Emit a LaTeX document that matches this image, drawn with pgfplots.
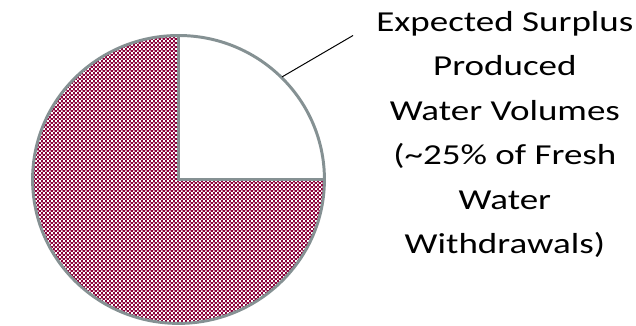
\documentclass[border=0pt]{standalone}
\usepackage{pgfplots}
\pgfplotsset{compat=1.18}
\usepackage{pgfplotstable}
\usetikzlibrary{patterns}
\usepackage{fontspec}
\setmainfont{Carlito}
\definecolor{pieMaroon}{RGB}{140,0,58}
\definecolor{pieEdge}{RGB}{133,145,147}
\pgfdeclarepatternformonly{checker}{\pgfpointorigin}{\pgfpoint{3pt}{3pt}}{\pgfpoint{3pt}{3pt}}{
  \pgfpathrectangle{\pgfpoint{0.15pt}{0.15pt}}{\pgfpoint{1.2pt}{1.2pt}}
  \pgfpathrectangle{\pgfpoint{1.65pt}{1.65pt}}{\pgfpoint{1.2pt}{1.2pt}}
  \pgfusepath{fill}
}

\pgfplotstableread{
part value
surplus 25
rest 75
}\pietable

\begin{document}
\pgfplotstablegetelem{0}{value}\of\pietable
\let\valA\pgfplotsretval
\pgfplotstablegetelem{1}{value}\of\pietable
\let\valB\pgfplotsretval
\pgfmathsetmacro\angA{\valA/(\valA+\valB)*360}
\pgfmathsetmacro\angB{\valB/(\valA+\valB)*360}
\pgfmathsetmacro\angEnd{90-\angA}
\begin{tikzpicture}
\path[use as bounding box] (0,0) rectangle (477pt,247.5pt);
\begin{axis}[
  at={(0,0)}, anchor=origin,
  scale only axis, x=0.75pt, y=0.75pt,
  xmin=0,xmax=636,ymin=0,ymax=330,
  hide axis, clip=false,
]
% maroon slice (75%)
\fill[pieMaroon] (axis cs:172,148) -- ([shift={(90:111pt and 109.5pt)}]axis cs:172,148)
  arc[start angle=90, delta angle=\angB, x radius=111pt, y radius=109.5pt] -- cycle;
\fill[pattern=checker, pattern color=white] (axis cs:172,148) -- ([shift={(90:111pt and 109.5pt)}]axis cs:172,148)
  arc[start angle=90, delta angle=\angB, x radius=111pt, y radius=109.5pt] -- cycle;
% white slice (25%)
\fill[white] (axis cs:172,148) -- ([shift={(90:111pt and 109.5pt)}]axis cs:172,148)
  arc[start angle=90, delta angle=-\angA, x radius=111pt, y radius=109.5pt] -- cycle;
% outlines
\draw[pieEdge, line width=2.25pt] (axis cs:172,148) ellipse [x radius=111pt, y radius=109.5pt];
\draw[pieEdge, line width=2.25pt] ([shift={(90:111pt and 109.5pt)}]axis cs:172,148) -- (axis cs:172,148)
  -- ([shift={(\angEnd:111pt and 109.5pt)}]axis cs:172,148);
% leader line
\draw[black, line width=0.75pt] (axis cs:277,252) -- (axis cs:349,294);
% label
\node[anchor=base, inner sep=0pt, font=\fontsize{22pt}{33.75pt}\selectfont] at (axis cs:503,298)
  {\scalebox{1.28}[1]{\begin{tabular}[t]{@{}c@{}}Expected Surplus\\Produced\\Water Volumes\\(\textasciitilde 25\% of Fresh\\Water\\Withdrawals)\end{tabular}}};
\end{axis}
\end{tikzpicture}
\end{document}
